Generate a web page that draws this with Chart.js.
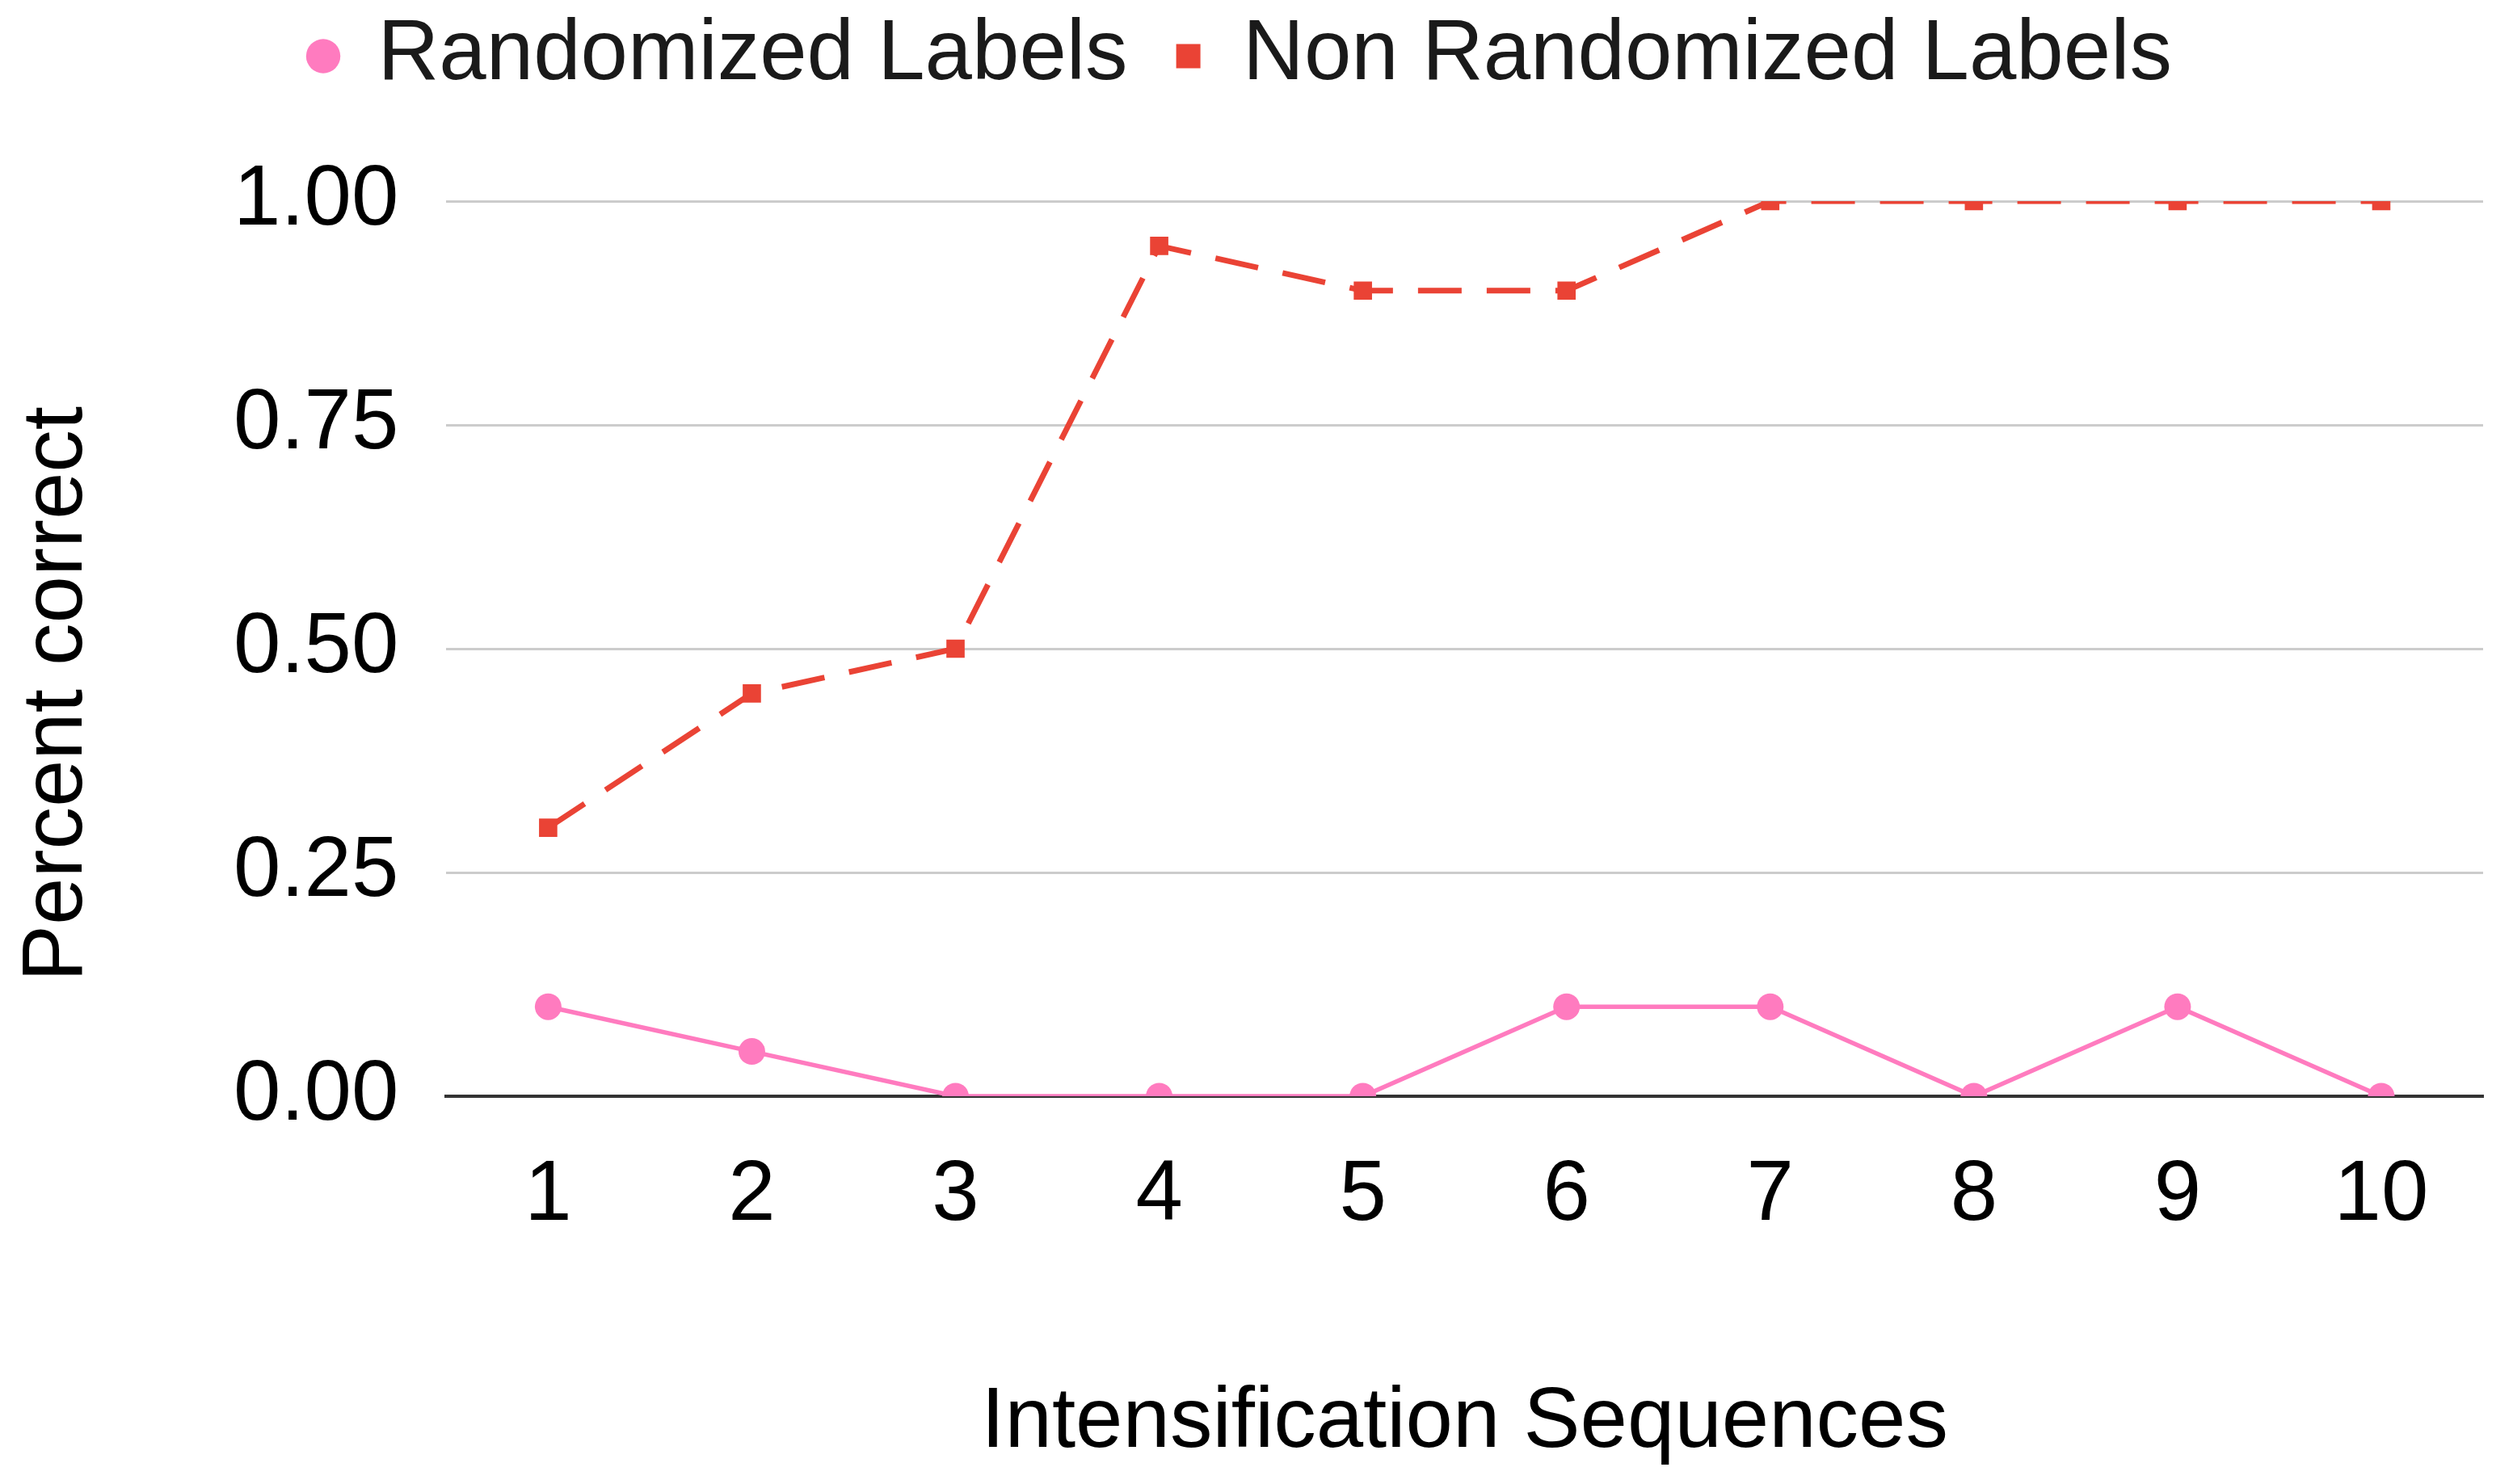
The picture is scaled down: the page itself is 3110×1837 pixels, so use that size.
<!DOCTYPE html>
<html>
<head>
<meta charset="utf-8">
<title>Percent correct</title>
<script src="https://cdn.jsdelivr.net/npm/chart.js@4/dist/chart.umd.min.js"></script>
<style>
  html, body { margin: 0; padding: 0; background: #fff; }
  #wrap { width: 3110px; height: 1837px; }
</style>
</head>
<body>
<div id="wrap"><canvas id="chart"></canvas></div>
<script>
const sequences = ["1", "2", "3", "4", "5", "6", "7", "8", "9", "10"];
const randomizedLabels = [0.1, 0.05, 0, 0, 0, 0.1, 0.1, 0, 0.1, 0];
const nonRandomizedLabels = [0.3, 0.45, 0.5, 0.95, 0.9, 0.9, 1, 1, 1, 1];
const yTicks = [0, 0.25, 0.5, 0.75, 1];

const fontFamily = "'Liberation Sans', Arial, sans-serif";
const pink = "#ff7bbf";
const red = "#ea4335";

// push the plot area down below the legend, and nudge the y title down a bit
const layoutTweaks = {
  id: "layoutTweaks",
  beforeLayout(chart) {
    const legend = chart.legend;
    if (!legend || legend._spaced) return;
    const fit = legend.fit;
    legend.fit = function () {
      fit.call(this);
      this.height += 117;
    };
    legend._spaced = true;
  },
  afterLayout(chart) {
    const y = chart.scales.y;
    if (!y || y._shifted) return;
    const drawTitle = y.drawTitle;
    y.drawTitle = function () {
      this.ctx.save();
      this.ctx.translate(0, 56);
      drawTitle.call(this);
      this.ctx.restore();
    };
    y._shifted = true;
  },
};

const ctx = document.getElementById("chart");

new Chart(ctx, {
  type: "line",
  data: {
    labels: sequences,
    datasets: [
      {
        label: "Randomized Labels",
        data: randomizedLabels,
        borderColor: pink,
        backgroundColor: pink,
        borderWidth: 5.5,
        pointStyle: "circle",
        pointRadius: 16.5,
        pointBorderWidth: 0,
        pointHoverRadius: 16.5,
        clip: 0,
        tension: 0,
      },
      {
        label: "Non Randomized Labels",
        data: nonRandomizedLabels,
        borderColor: red,
        backgroundColor: red,
        borderWidth: 7,
        borderDash: [54, 31],
        pointStyle: "rect",
        pointRadius: 16,
        pointBorderWidth: 0,
        pointHoverRadius: 16,
        clip: 0,
        tension: 0,
      },
    ],
  },
  options: {
    responsive: true,
    maintainAspectRatio: false,
    animation: false,
    layout: {
      padding: { top: -43, right: 37, bottom: 0, left: 0 },
    },
    plugins: {
      legend: {
        position: "top",
        labels: {
          usePointStyle: true,
          boxWidth: 30,
          boxHeight: 30,
          padding: 60,
          color: "#1a1a1a",
          font: { family: fontFamily, size: 105 },
        },
      },
      tooltip: { enabled: false },
    },
    scales: {
      x: {
        offset: true,
        grid: { display: false },
        border: { display: true, color: "#333333", width: 4 },
        ticks: {
          color: "#000",
          padding: 53,
          maxRotation: 0,
          font: { family: fontFamily, size: 105 },
        },
        title: {
          display: true,
          text: "Intensification Sequences",
          color: "#000",
          padding: { top: 102, bottom: 12 },
          font: { family: fontFamily, size: 105 },
        },
      },
      y: {
        min: 0,
        max: 1,
        afterBuildTicks(scale) {
          scale.ticks = yTicks.map((v) => ({ value: v }));
        },
        grid: { color: "#cccccc", lineWidth: 3, drawTicks: false },
        border: { display: false },
        ticks: {
          color: "#000",
          padding: 59,
          font: { family: fontFamily, size: 105 },
          callback: (value) => Number(value).toFixed(2),
        },
        title: {
          display: true,
          text: "Percent correct",
          color: "#000",
          padding: { top: 9, bottom: 95 },
          font: { family: fontFamily, size: 105 },
        },
      },
    },
  },
  plugins: [layoutTweaks],
});
</script>
</body>
</html>
